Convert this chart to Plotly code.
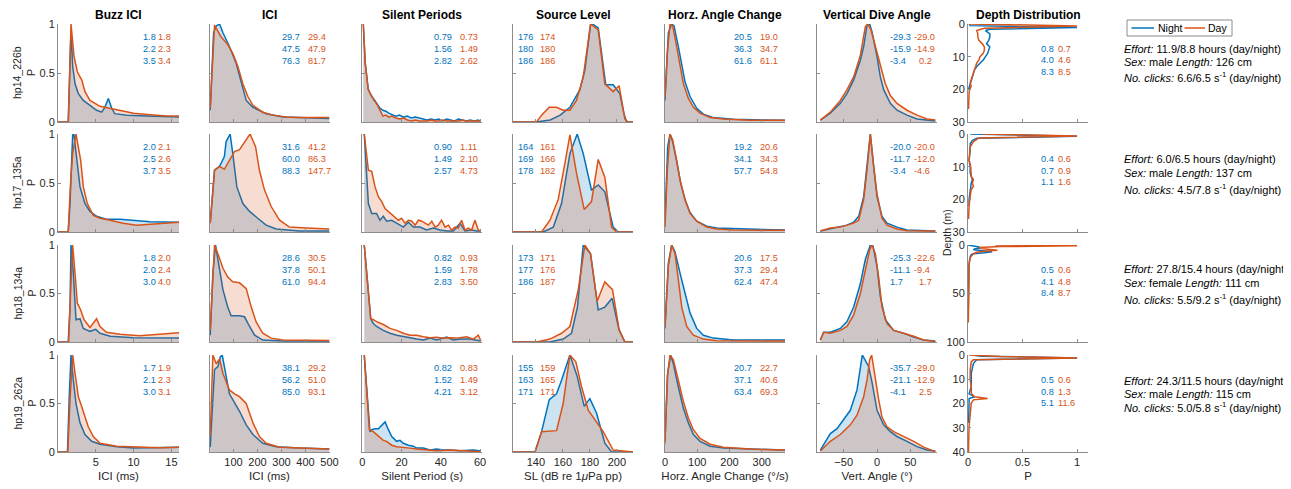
import plotly.graph_objects as go

# page is 1291x489; the html body has an 8px margin, so the figure is 1283x481 at (8, 8)
PAGE_OFF = 8
W, H = 1283, 481
NIGHT = '#0072BD'
DAY = '#D95319'
NIGHT_FILL = 'rgba(0,114,189,0.2)'
DAY_FILL = 'rgba(217,83,25,0.2)'
FONT = 'Liberation Sans, Arial, Helvetica, sans-serif'
TXT = '#262626'
AXC = '#8c8c8c'

column_titles = ["Buzz ICI", "ICI", "Silent Periods", "Source Level",
                 "Horz. Angle Change", "Vertical Dive Angle", "Depth Distribution"]
row_labels = ["hp14_226b", "hp17_135a", "hp18_134a", "hp19_262a"]
x_titles = ["ICI (ms)", "ICI (ms)", "Silent Period (s)", "SL (dB re 1<i>μ</i>Pa pp)",
            "Horz. Angle Change (°/s)", "Vert. Angle (°)", "P"]
legend_names = ["Night", "Day"]

# ---------------- Buzz ICI (ms) ----------------
buzz_night_x = [
    [0, 1.35, 1.55, 1.72, 1.94, 2.25, 2.69, 3.35, 4.23, 5.1, 5.77, 6.2, 6.66, 7.1, 7.5, 9.1, 11.7, 16],
    [0, 1.35, 1.59, 1.94, 2.1, 2.38, 2.91, 3.57, 4.23, 5.1, 6.4, 8.2, 10.0, 12.2, 16],
    [0, 1.35, 1.59, 1.72, 2.03, 2.38, 2.91, 3.35, 4.23, 4.98, 5.56, 6.9, 10.0, 16],
    [0, 1.25, 1.5, 1.72, 2.03, 2.38, 2.91, 3.57, 4.45, 5.56, 7.77, 10.0, 12.2, 16]]
buzz_night_y = [
    [0, 0, 0.5, 0.94, 0.57, 0.39, 0.29, 0.22, 0.17, 0.12, 0.10, 0.15, 0.24, 0.14, 0.085, 0.07, 0.06, 0.05],
    [0, 0, 0.29, 0.99, 1.0, 0.8, 0.46, 0.29, 0.21, 0.16, 0.13, 0.13, 0.12, 0.105, 0.1],
    [0, 0, 0.36, 1.0, 0.71, 0.23, 0.24, 0.14, 0.11, 0.13, 0.09, 0.06, 0.045, 0.04],
    [0, 0, 0.6, 1.0, 0.74, 0.5, 0.3, 0.18, 0.11, 0.08, 0.055, 0.04, 0.045, 0.05]]
buzz_day_x = [
    [0, 1.37, 1.72, 2.12, 2.56, 3.13, 3.57, 4.23, 5.56, 6.88, 8.2, 10.0, 12.2, 14.4, 16],
    [0, 1.35, 1.68, 1.94, 2.38, 2.69, 3.0, 3.35, 3.88, 4.67, 5.56, 6.9, 8.6, 10.4, 12.2, 14.4, 16],
    [0, 1.4, 1.68, 1.94, 2.25, 2.56, 3.0, 3.44, 4.23, 4.76, 5.1, 5.56, 6.4, 8.2, 10.8, 13.4, 16],
    [0, 1.3, 1.59, 1.94, 2.25, 2.69, 3.13, 3.57, 4.0, 4.67, 5.56, 7.77, 10.8, 13.4, 16]]
buzz_day_y = [
    [0, 0, 1.0, 0.67, 0.51, 0.43, 0.31, 0.22, 0.16, 0.14, 0.12, 0.09, 0.075, 0.06, 0.06],
    [0, 0, 0.53, 0.8, 1.0, 0.84, 0.73, 0.46, 0.29, 0.17, 0.14, 0.12, 0.09, 0.07, 0.08, 0.095, 0.1],
    [0, 0, 0.54, 1.0, 0.71, 0.4, 0.33, 0.23, 0.15, 0.21, 0.24, 0.16, 0.1, 0.08, 0.065, 0.08, 0.096],
    [0, 0, 0.54, 1.0, 0.81, 0.57, 0.47, 0.35, 0.26, 0.16, 0.09, 0.06, 0.05, 0.045, 0.05]]

# ---------------- ICI (ms) ----------------
ici_night_x = [
    [3, 17, 28, 42, 56, 83, 111, 139, 153, 181, 236, 306, 500],
    [3, 21, 42, 62, 69, 86, 97, 114, 139, 167, 201, 236, 278, 375, 500],
    [3, 14, 25, 35, 56, 76, 90, 125, 146, 167, 188, 222, 306, 500],
    [3, 21, 35, 45, 53, 62, 83, 97, 125, 153, 181, 222, 278, 375, 500]]
ici_night_y = [
    [0.12, 0.91, 0.98, 1.0, 0.91, 0.77, 0.6, 0.36, 0.22, 0.15, 0.085, 0.05, 0.035],
    [0.09, 0.63, 0.67, 0.77, 0.92, 1.0, 0.8, 0.46, 0.29, 0.21, 0.14, 0.07, 0.03, 0.01, 0.01],
    [0.07, 0.71, 1.0, 0.85, 0.54, 0.36, 0.27, 0.27, 0.26, 0.16, 0.07, 0.02, 0.01, 0.01],
    [0.05, 0.85, 0.88, 0.98, 1.0, 0.88, 0.6, 0.54, 0.42, 0.28, 0.18, 0.09, 0.055, 0.04, 0.03]]
ici_day_x = [
    [3, 21, 27, 48, 76, 97, 118, 139, 160, 181, 222, 264, 319, 375, 500],
    [3, 21, 42, 62, 83, 104, 125, 146, 169, 192, 208, 229, 257, 292, 333, 403, 500],
    [3, 21, 35, 56, 76, 97, 125, 153, 174, 194, 222, 257, 306, 500],
    [3, 14, 28, 42, 56, 83, 104, 125, 153, 181, 208, 236, 292, 375, 500]]
ici_day_y = [
    [0.14, 0.99, 0.96, 0.87, 0.79, 0.7, 0.57, 0.39, 0.26, 0.17, 0.1, 0.07, 0.05, 0.045, 0.045],
    [0.09, 0.63, 0.67, 0.64, 0.73, 0.82, 0.84, 0.92, 1.0, 0.87, 0.63, 0.43, 0.26, 0.12, 0.05, 0.04, 0.03],
    [0.12, 1.0, 0.91, 0.76, 0.67, 0.62, 0.61, 0.55, 0.36, 0.21, 0.09, 0.04, 0.02, 0.015],
    [0.16, 1.0, 0.91, 0.96, 0.81, 0.64, 0.6, 0.57, 0.5, 0.3, 0.16, 0.09, 0.05, 0.04, 0.03]]

# ---------------- Silent periods (s) ----------------
silent_night_x = [
    [0.5, 1.5, 3, 4.5, 6, 7.5, 9, 10.5, 12, 13.5, 15, 17, 19, 21, 23, 25, 27, 29, 31, 33, 35, 37, 39, 41,
     43, 45, 47, 49, 51, 53, 55, 57, 59, 60],
    [1, 3.1, 4.8, 7.3, 9, 10.7, 12.4, 15, 17.5, 20.9, 23.5, 26, 29.4, 32.8, 36.2, 39.6, 43, 46.4, 49.8,
     52.3, 55.7, 58.3, 60.5],
    [1.0, 4.3, 5.6, 7.3, 10.7, 14.1, 17.5, 20.9, 24.3, 27.7, 31.1, 34.5, 37.9, 43.0, 46.4, 49.8, 54.9, 58.3, 60.5],
    [1.0, 3.9, 4.8, 6.5, 8.2, 9.9, 11.6, 13.3, 15.0, 17.5, 19.2, 20.9, 23.5, 26.0, 27.7, 31.1, 34.5, 37.9,
     41.3, 44.7, 49.8, 56.6, 60.5]]
silent_night_y = [
    [1.0, 0.6, 0.34, 0.27, 0.23, 0.19, 0.14, 0.12, 0.11, 0.09, 0.08, 0.06, 0.07, 0.05, 0.06, 0.04, 0.05,
     0.04, 0.03, 0.02, 0.03, 0.02, 0.03, 0.01, 0.03, 0.02, 0.01, 0.03, 0.02, 0.01, 0.02, 0.01, 0.02, 0.01],
    [1.0, 0.29, 0.19, 0.19, 0.12, 0.16, 0.11, 0.12, 0.09, 0.05, 0.1, 0.05, 0.05, 0.02, 0.04, 0.02, 0.01,
     0.01, 0.09, 0.01, 0.02, 0.01, 0.01],
    [1.0, 0.24, 0.19, 0.16, 0.12, 0.09, 0.07, 0.055, 0.045, 0.03, 0.02, 0.04, 0.02, 0.05, 0.02, 0.03, 0.03,
     0.015, 0.01],
    [1.0, 0.21, 0.23, 0.24, 0.24, 0.28, 0.31, 0.23, 0.16, 0.11, 0.12, 0.09, 0.07, 0.06, 0.04, 0.04, 0.02,
     0.03, 0.02, 0.02, 0.014, 0.02, 0.01]]
silent_day_x = [
    [0.5, 1.5, 3, 4.5, 6, 7.5, 9, 10.5, 12, 13.5, 15, 17, 19, 21, 23, 25, 27, 29, 31, 33, 35, 37, 39, 41,
     43, 45, 47, 49, 51, 53, 55, 57, 59, 60],
    [1, 3.1, 4.8, 6.5, 8.2, 9.9, 11.6, 13.3, 15, 16.7, 18.4, 20, 21.8, 23.5, 25.2, 26.9, 28.6, 30.3, 31.9,
     33.7, 35.4, 37.1, 38.7, 40.4, 42.2, 43.9, 45.5, 47.2, 48.9, 50.6, 52.3, 54, 55.7, 57.4, 59.1, 60.5],
    [1.0, 4.3, 5.6, 7.3, 10.7, 14.1, 17.5, 20.9, 24.3, 27.7, 31.1, 34.5, 37.9, 41.3, 44.7, 48.1, 53.2,
     56.6, 59.1, 60.5],
    [1.0, 3.6, 5.6, 7.3, 9.0, 10.7, 12.4, 15.0, 17.5, 20.9, 24.3, 27.7, 32.8, 37.9, 44.7, 53.2, 60.5]]
silent_day_y = [
    [1.0, 0.6, 0.33, 0.27, 0.22, 0.18, 0.12, 0.06, 0.07, 0.05, 0.06, 0.04, 0.03, 0.04, 0.02, 0.01, 0.02,
     0.01, 0.01, 0.01, 0.02, 0.01, 0.01, 0.02, 0.01, 0.01, 0.01, 0.01, 0.02, 0.01, 0.01, 0.01, 0.01, 0.01],
    [1.0, 0.63, 0.62, 0.46, 0.36, 0.31, 0.24, 0.21, 0.17, 0.14, 0.12, 0.14, 0.09, 0.12, 0.11, 0.07, 0.12,
     0.11, 0.09, 0.07, 0.11, 0.05, 0.07, 0.12, 0.05, 0.07, 0.02, 0.05, 0.04, 0.12, 0.02, 0.04, 0.02, 0.12,
     0.02, 0.01],
    [1.0, 0.24, 0.23, 0.21, 0.18, 0.14, 0.12, 0.09, 0.07, 0.07, 0.055, 0.045, 0.05, 0.04, 0.045, 0.04,
     0.055, 0.03, 0.07, 0.01],
    [1.0, 0.23, 0.21, 0.18, 0.14, 0.12, 0.11, 0.07, 0.055, 0.05, 0.04, 0.03, 0.02, 0.014, 0.02, 0.01, 0.003]]

# ---------------- Source level (dB re 1 uPa pp) ----------------
sl_night_x = [
    [123, 140, 150.6, 158, 165.2, 172.6, 176.3, 180.5, 182, 186.2, 191.8, 197.3, 202.2, 205.2, 207.2, 212],
    [123, 145.4, 152.9, 159, 165.2, 170.6, 175.1, 181.2, 186.2, 191.1, 197.3, 201, 212],
    [123, 150.4, 160.2, 166.4, 170.8, 175.1, 180.5, 186.2, 191.1, 196.5, 201.7, 206, 212],
    [123, 139.3, 144.2, 149.9, 155.3, 159, 165.2, 170.6, 175.8, 180, 185, 191.1, 196.1, 212]]
sl_night_y = [
    [0, 0, 0.02, 0.07, 0.15, 0.33, 0.53, 0.99, 1.0, 0.96, 0.38, 0.38, 0.29, 0.09, 0, 0],
    [0, 0, 0.05, 0.29, 0.8, 1.0, 0.8, 0.43, 0.48, 0.41, 0.05, 0, 0],
    [0, 0, 0.03, 0.09, 0.36, 1.0, 0.91, 0.33, 0.36, 0.45, 0.12, 0, 0],
    [0, 0, 0.21, 0.54, 0.6, 0.74, 1.0, 0.78, 0.47, 0.55, 0.4, 0.09, 0, 0]]
sl_day_x = [
    [123, 140.5, 144.2, 149.9, 155.3, 160.2, 165.2, 170.1, 175.1, 180.5, 186.2, 191.1, 197.3, 201.7, 206, 208.4, 212],
    [123, 144.2, 150.4, 156.5, 161.5, 165.2, 170.1, 175.8, 181.2, 186.2, 191.1, 196.1, 199.8, 212],
    [123, 140.5, 150.4, 159, 165.2, 171.4, 176.3, 180.5, 185.4, 191.1, 196.8, 201.7, 206, 212],
    [123, 139.3, 144.2, 155.3, 160.2, 165.2, 169.6, 173.9, 178.8, 185, 189.9, 197.3, 212]]
sl_day_y = [
    [0, 0, 0.07, 0.15, 0.15, 0.12, 0.12, 0.22, 0.46, 1.0, 0.94, 0.39, 0.31, 0.37, 0.03, 0, 0],
    [0, 0, 0.12, 0.33, 0.7, 0.99, 0.6, 0.23, 0.31, 0.74, 0.56, 0.05, 0, 0],
    [0, 0, 0.03, 0.09, 0.16, 0.54, 1.0, 0.91, 0.42, 0.62, 0.54, 0.13, 0, 0],
    [0, 0, 0.21, 0.22, 0.5, 1.0, 0.93, 0.67, 0.43, 0.3, 0.21, 0.02, 0]]

# ---------------- Horizontal angle change (deg/s) ----------------
horz_night_x = [
    [0, 10.3, 20.7, 28, 41.4, 51.8, 62.1, 77.6, 98.3, 119, 150, 212, 372],
    [0, 8.3, 15.5, 23.8, 36.2, 48.7, 62.1, 77.6, 98.3, 129.4, 160.5, 372],
    [0, 10.3, 20.7, 31, 46.6, 62.1, 77.6, 98.3, 119, 150, 212, 372],
    [0, 8.3, 17.6, 25.9, 41.4, 57, 72.5, 88, 108.7, 139.8, 181, 372]]
horz_night_y = [
    [0.22, 0.91, 1.0, 0.98, 0.77, 0.58, 0.41, 0.26, 0.14, 0.08, 0.045, 0.027, 0.017],
    [0.12, 0.87, 1.0, 0.92, 0.72, 0.5, 0.33, 0.2, 0.11, 0.06, 0.04, 0.02],
    [0.14, 0.81, 1.0, 0.93, 0.71, 0.5, 0.3, 0.14, 0.07, 0.04, 0.02, 0.02],
    [0.12, 0.81, 1.0, 0.91, 0.67, 0.45, 0.3, 0.18, 0.11, 0.06, 0.04, 0.02]]
horz_day_x = [
    [0, 7.2, 15.5, 23.8, 36.2, 46.6, 57, 72.5, 88, 108.7, 139.8, 181, 264, 372],
    [0, 7.2, 15.5, 23.8, 36.2, 46.6, 62.1, 77.6, 98.3, 129.4, 160.5, 212, 372],
    [0, 10.3, 20.7, 31, 41.4, 51.8, 67.3, 88, 119, 160.5, 372],
    [0, 7.2, 15.5, 25.9, 41.4, 57, 72.5, 88, 108.7, 139.8, 181, 264, 372]]
horz_day_y = [
    [0.26, 0.7, 1.0, 0.98, 0.77, 0.57, 0.39, 0.24, 0.15, 0.09, 0.045, 0.03, 0.017, 0.017],
    [0.05, 0.63, 1.0, 0.94, 0.73, 0.53, 0.33, 0.19, 0.11, 0.05, 0.03, 0.02, 0.017],
    [0.16, 0.78, 1.0, 0.91, 0.64, 0.36, 0.16, 0.07, 0.03, 0.014, 0.01],
    [0.09, 0.78, 1.0, 0.95, 0.74, 0.52, 0.35, 0.23, 0.14, 0.08, 0.05, 0.03, 0.02]]

# ---------------- Vertical dive angle (deg) ----------------
vert_night_x = [
    [-85, -70, -55, -45, -35, -25, -20, -15, -11, -7.5, 0, 5, 10, 20, 30, 45, 60, 87.5],
    [-85, -70, -55, -45, -35, -27.5, -20, -15, -10, -5, 0, 7.5, 15, 30, 45, 87.5],
    [-85, -80, -70, -55, -45, -35, -25, -17.5, -10, -6, 0, 5, 12.5, 25, 40, 55, 70, 87.5],
    [-85, -70, -60, -50, -40, -30, -25, -22, -12.5, -7.5, 0, 10, 20, 30, 45, 60, 75, 87.5]]
vert_night_y = [
    [0.02, 0.09, 0.19, 0.29, 0.43, 0.63, 0.77, 0.99, 1.0, 0.92, 0.67, 0.46, 0.33, 0.19, 0.12, 0.07, 0.03, 0.01],
    [0.01, 0.03, 0.05, 0.07, 0.1, 0.16, 0.36, 0.67, 1.0, 0.67, 0.36, 0.16, 0.09, 0.05, 0.02, 0.01],
    [0.02, 0.1, 0.1, 0.14, 0.21, 0.36, 0.6, 0.85, 1.0, 0.99, 0.78, 0.47, 0.23, 0.12, 0.09, 0.05, 0.02, 0.01],
    [0.02, 0.19, 0.24, 0.33, 0.43, 0.64, 0.85, 1.0, 0.88, 0.72, 0.43, 0.28, 0.21, 0.16, 0.11, 0.055, 0.02, 0.01]]
vert_day_x = [
    [-85, -70, -55, -45, -35, -25, -17.5, -14, -9, -2.5, 5, 12.5, 20, 30, 45, 60, 75, 87.5],
    [-85, -70, -55, -45, -35, -27.5, -20, -15, -10, -5, 0, 7.5, 15, 30, 45, 87.5],
    [-85, -80, -70, -55, -45, -35, -25, -17.5, -11, -7.5, -2.5, 2.5, 7.5, 15, 25, 40, 55, 70, 87.5],
    [-85, -70, -55, -40, -30, -20, -15, -11, -8, -2.5, 2.5, 7.5, 15, 25, 40, 55, 70, 87.5]]
vert_day_y = [
    [0.02, 0.1, 0.22, 0.33, 0.46, 0.68, 0.97, 1.0, 0.94, 0.77, 0.57, 0.39, 0.27, 0.19, 0.12, 0.07, 0.03, 0.02],
    [0.01, 0.04, 0.05, 0.07, 0.09, 0.12, 0.33, 0.63, 1.0, 0.67, 0.39, 0.14, 0.07, 0.03, 0.014, 0.01],
    [0.02, 0.1, 0.09, 0.12, 0.16, 0.28, 0.5, 0.74, 0.95, 1.0, 0.91, 0.67, 0.36, 0.19, 0.12, 0.09, 0.06, 0.02, 0.005],
    [0.01, 0.11, 0.18, 0.28, 0.38, 0.57, 0.74, 0.95, 1.0, 0.74, 0.54, 0.36, 0.26, 0.21, 0.16, 0.11, 0.05, 0.003]]

# ---------------- Depth distribution (P vs depth m) ----------------
depth_night_d = [
    [0, 0.5, 1.1, 1.6, 2, 3, 4, 5, 6, 7, 8, 9, 10, 11, 12, 13, 14, 15, 16, 17, 18, 19, 20],
    [0, 0.3, 0.7, 1.3, 2, 3, 5, 8, 10, 12, 13, 14, 15, 17, 20, 22],
    [0, 1, 2, 3, 4, 5, 6, 7, 8, 9, 10, 12, 15, 20, 30, 50, 65],
    [0, 0.5, 1.2, 2, 3.4, 7.6, 13, 16, 17.2, 18, 20, 24, 28]]
depth_night_p = [
    [0.01, 0.02, 1.0, 0.2, 0.16, 0.2, 0.2, 0.19, 0.17, 0.2, 0.19, 0.18, 0.16, 0.14, 0.11, 0.08, 0.06, 0.05,
     0.04, 0.03, 0.025, 0.01, 0.005],
    [0.02, 0.6, 1.0, 0.08, 0.04, 0.02, 0.02, 0.01, 0.02, 0.02, 0.03, 0.04, 0.03, 0.02, 0.01, 0.01],
    [0.0, 0.06, 0.1, 0.11, 0.06, 0.05, 0.12, 0.22, 0.15, 0.05, 0.03, 0.02, 0.015, 0.01, 0.008, 0.005, 0.003],
    [0.04, 0.12, 1.0, 0.08, 0.05, 0.03, 0.03, 0.01, 0.06, 0.01, 0.01, 0.01, 0.005]]
depth_day_d = [
    [0, 0.6, 1.3, 2, 3, 4, 5, 6, 7, 8, 9, 10, 11, 12, 13, 14, 15, 16, 17, 18, 19, 20, 21, 23, 26],
    [0, 0.6, 1.2, 2.3, 4, 8, 10, 13, 14, 15, 16, 17, 19, 22, 26],
    [0, 0.8, 1.6, 2.5, 3.5, 4.5, 5.5, 6.5, 7.5, 9, 11, 13, 20, 40, 60, 80],
    [0, 0.6, 1.2, 2, 2.7, 6.2, 10.3, 13, 15.8, 17.2, 17.9, 18.5, 19.9, 24, 29.5, 37.8, 40]]
depth_day_p = [
    [0.01, 1.0, 0.15, 0.08, 0.09, 0.09, 0.1, 0.13, 0.15, 0.15, 0.14, 0.11, 0.1, 0.08, 0.07, 0.06, 0.05,
     0.04, 0.03, 0.02, 0.03, 0.015, 0.01, 0.01, 0.005],
    [0.12, 1.0, 0.1, 0.05, 0.02, 0.01, 0.025, 0.03, 0.05, 0.04, 0.05, 0.03, 0.02, 0.01, 0.005],
    [0.25, 1.0, 0.3, 0.1, 0.12, 0.2, 0.27, 0.15, 0.08, 0.05, 0.03, 0.02, 0.01, 0.008, 0.005, 0.003],
    [0.01, 0.3, 1.0, 0.05, 0.03, 0.02, 0.02, 0.03, 0.03, 0.06, 0.18, 0.05, 0.03, 0.02, 0.01, 0.005, 0.005]]

# ---------------- Quartile labels (night, day) ----------------
buzz_q_night = [["1.8", "2.2", "3.5"], ["2.0", "2.5", "3.7"], ["1.8", "2.0", "3.0"], ["1.7", "2.1", "3.0"]]
buzz_q_day = [["1.8", "2.3", "3.4"], ["2.1", "2.6", "3.5"], ["2.0", "2.4", "4.0"], ["1.9", "2.3", "3.1"]]
ici_q_night = [["29.7", "47.5", "76.3"], ["31.6", "60.0", "88.3"], ["28.6", "37.8", "61.0"], ["38.1", "56.2", "85.0"]]
ici_q_day = [["29.4", "47.9", "81.7"], ["41.2", "86.3", "147.7"], ["30.5", "50.1", "94.4"], ["29.2", "51.0", "93.1"]]
silent_q_night = [["0.79", "1.56", "2.82"], ["0.90", "1.49", "2.57"], ["0.82", "1.59", "2.83"], ["0.82", "1.52", "4.21"]]
silent_q_day = [["0.73", "1.49", "2.62"], ["1.11", "2.10", "4.73"], ["0.93", "1.78", "3.50"], ["0.83", "1.49", "3.12"]]
sl_q_night = [["176", "180", "186"], ["164", "169", "178"], ["173", "177", "186"], ["155", "163", "171"]]
sl_q_day = [["174", "180", "186"], ["161", "166", "182"], ["171", "176", "187"], ["159", "165", "171"]]
horz_q_night = [["20.5", "36.3", "61.6"], ["19.2", "34.1", "57.7"], ["20.6", "37.3", "62.4"], ["20.7", "37.1", "63.4"]]
horz_q_day = [["19.0", "34.7", "61.1"], ["20.6", "34.3", "54.8"], ["17.5", "29.4", "47.4"], ["22.7", "40.6", "69.3"]]
vert_q_night = [["-29.3", "-15.9", "-3.4"], ["-20.0", "-11.7", "-3.4"], ["-25.3", "-11.1", "1.7"], ["-35.7", "-21.1", "-4.1"]]
vert_q_day = [["-29.0", "-14.9", "0.2"], ["-20.0", "-12.0", "-4.6"], ["-22.6", "-9.4", "1.7"], ["-29.0", "-12.9", "2.5"]]
depth_q_night = [["0.8", "4.0", "8.3"], ["0.4", "0.7", "1.1"], ["0.5", "4.1", "8.4"], ["0.5", "0.8", "5.1"]]
depth_q_day = [["0.7", "4.6", "8.5"], ["0.6", "0.9", "1.6"], ["0.6", "4.8", "8.7"], ["0.6", "1.3", "11.6"]]

# ---------------- Animal info ----------------
effort = ["11.9/8.8", "6.0/6.5", "27.8/15.4", "24.3/11.5"]
sex = ["male", "male", "female", "male"]
length_cm = [126, 137, 111, 115]
clicks = ["6.6/6.5", "4.5/7.8", "5.5/9.2", "5.0/5.8"]

# ---------------- Layout geometry (page pixels) ----------------
col_px = [(58, 179), (209.5, 329.5), (362.3, 482), (513, 633), (665, 785), (817, 937), (968, 1088)]
row_px = [(24, 122), (134, 232), (245, 342), (355, 452)]
x_ranges = [[0, 16], [0, 500], [0, 61], [123, 212], [0, 372], [-90, 90], [0, 1.1]]
x_ticks = [[5, 10, 15], [100, 200, 300, 400, 500], [0, 20, 40, 60], [140, 160, 180, 200],
           [0, 100, 200, 300], [-50, 0, 50], [0, 0.5, 1]]
depth_max = [30, 30, 100, 40]
depth_ticks = [[0, 10, 20, 30], [0, 10, 20, 30], [0, 50, 100], [0, 10, 20, 30, 40]]
q_night_px = [141, 280, 431.7, 515.7, 731.7, 888.3, 1039.3]
q_day_px = [156, 305.7, 458, 538.3, 758, 911.7, 1056]
info_y = [[49, 62.5, 77], [159, 172.5, 189], [269, 283, 299], [381, 393.5, 407]]

series = [
    (buzz_night_x, buzz_night_y, buzz_day_x, buzz_day_y, buzz_q_night, buzz_q_day),
    (ici_night_x, ici_night_y, ici_day_x, ici_day_y, ici_q_night, ici_q_day),
    (silent_night_x, silent_night_y, silent_day_x, silent_day_y, silent_q_night, silent_q_day),
    (sl_night_x, sl_night_y, sl_day_x, sl_day_y, sl_q_night, sl_q_day),
    (horz_night_x, horz_night_y, horz_day_x, horz_day_y, horz_q_night, horz_q_day),
    (vert_night_x, vert_night_y, vert_day_x, vert_day_y, vert_q_night, vert_q_day),
]


def px_x(p):
    return (p - PAGE_OFF) / W


def px_y(p):
    return 1 - (p - PAGE_OFF) / H


fig = go.Figure()
layout = {}
annotations = []
shapes = []

for r in range(4):
    for c in range(7):
        idx = r * 7 + c + 1
        xa = 'x' if idx == 1 else f'x{idx}'
        ya = 'y' if idx == 1 else f'y{idx}'
        xkey = 'xaxis' if idx == 1 else f'xaxis{idx}'
        ykey = 'yaxis' if idx == 1 else f'yaxis{idx}'
        x0, x1 = col_px[c]
        y0, y1 = row_px[r]
        common = dict(showgrid=False, zeroline=False, showline=True, linecolor=AXC, linewidth=1,
                      ticks='inside', ticklen=3, tickcolor=AXC, tickwidth=1,
                      tickfont=dict(family=FONT, size=11, color=TXT), fixedrange=True)
        xaxis = dict(common, domain=[px_x(x0), px_x(x1)], anchor=ya, range=x_ranges[c],
                     tickvals=x_ticks[c], showticklabels=(r == 3))
        if r == 3:
            xaxis['title'] = dict(text=x_titles[c], font=dict(family=FONT, size=11.5, color=TXT), standoff=4)
        if c < 6:
            yaxis = dict(common, domain=[px_y(y1), px_y(y0)], anchor=xa, range=[0, 1],
                         tickvals=[0, 0.5, 1], ticktext=['0', '0.5', '1'], showticklabels=(c == 0))
            nx, ny, dx, dy, qn, qd = series[c]
            fig.add_trace(go.Scatter(x=nx[r], y=ny[r], mode='lines', name=legend_names[0],
                                     line=dict(color=NIGHT, width=1.5),
                                     fill='tozeroy', fillcolor=NIGHT_FILL, xaxis=xa, yaxis=ya,
                                     showlegend=False, hoverinfo='skip'))
            fig.add_trace(go.Scatter(x=dx[r], y=dy[r], mode='lines', name=legend_names[1],
                                     line=dict(color=DAY, width=1.5),
                                     fill='tozeroy', fillcolor=DAY_FILL, xaxis=xa, yaxis=ya,
                                     showlegend=False, hoverinfo='skip'))
            offs = [12.7, 25, 36.7]
        else:
            yaxis = dict(common, domain=[px_y(y1), px_y(y0)], anchor=xa, range=[depth_max[r], 0],
                         tickvals=depth_ticks[r], showticklabels=True)
            fig.add_trace(go.Scatter(x=depth_night_p[r], y=depth_night_d[r], mode='lines',
                                     name=legend_names[0], line=dict(color=NIGHT, width=1.5),
                                     xaxis=xa, yaxis=ya, showlegend=False, hoverinfo='skip'))
            fig.add_trace(go.Scatter(x=depth_day_p[r], y=depth_day_d[r], mode='lines',
                                     name=legend_names[1], line=dict(color=DAY, width=1.5),
                                     xaxis=xa, yaxis=ya, showlegend=False, hoverinfo='skip'))
            qn, qd = depth_q_night, depth_q_day
            offs = [25, 36.5, 48]
        layout[xkey] = xaxis
        layout[ykey] = yaxis

        for k in range(3):
            yy = px_y(y0 + offs[k])
            annotations.append(dict(x=px_x(q_night_px[c]), y=yy, xref='paper', yref='paper',
                                    text=qn[r][k], showarrow=False, xanchor='left', yanchor='middle',
                                    font=dict(family=FONT, size=9.2, color=NIGHT)))
            dxp = q_day_px[c]
            if c == 5 and not qd[r][k].startswith('-'):
                dxp += 5.5
            annotations.append(dict(x=px_x(dxp), y=yy, xref='paper', yref='paper',
                                    text=qd[r][k], showarrow=False, xanchor='left', yanchor='middle',
                                    font=dict(family=FONT, size=9.2, color=DAY)))

    # row labels (two-line y label of first column)
    yc = (row_px[r][0] + row_px[r][1]) / 2
    annotations.append(dict(x=px_x(17), y=px_y(yc), xref='paper', yref='paper', text=row_labels[r],
                            textangle=-90, showarrow=False, xanchor='center', yanchor='middle',
                            font=dict(family=FONT, size=10.5, color=TXT)))
    annotations.append(dict(x=px_x(31), y=px_y(yc), xref='paper', yref='paper', text="P",
                            textangle=-90, showarrow=False, xanchor='center', yanchor='middle',
                            font=dict(family=FONT, size=10.5, color=TXT)))

# Column titles
for c in range(7):
    x0, x1 = col_px[c]
    annotations.append(dict(x=px_x((x0 + x1) / 2), y=px_y(15), xref='paper', yref='paper',
                            text=f"<b>{column_titles[c]}</b>", showarrow=False,
                            xanchor='center', yanchor='middle',
                            font=dict(family=FONT, size=12, color='#000000')))

# Depth axis label
annotations.append(dict(x=px_x(947), y=px_y(233), xref='paper', yref='paper', text="Depth (m)",
                        textangle=-90, showarrow=False, xanchor='center', yanchor='middle',
                        font=dict(family=FONT, size=10.5, color=TXT)))

# Animal info text
for r in range(4):
    lines = [f"<i>Effort:</i> {effort[r]} hours (day/night)",
             f"<i>Sex:</i> {sex[r]} <i>Length:</i> {length_cm[r]} cm",
             f"<i>No. clicks:</i> {clicks[r]} s<sup>-1</sup> (day/night)"]
    for k in range(3):
        annotations.append(dict(x=px_x(1121.5), y=px_y(info_y[r][k]), xref='paper', yref='paper',
                                text=lines[k], showarrow=False, xanchor='left', yanchor='middle',
                                font=dict(family=FONT, size=11, color='#000000')))

# Legend box (Night / Day)
shapes.append(dict(type='rect', xref='paper', yref='paper', x0=px_x(1127), x1=px_x(1232),
                   y0=px_y(36), y1=px_y(20), line=dict(color='#8c8c8c', width=1), fillcolor='white'))
shapes.append(dict(type='line', xref='paper', yref='paper', x0=px_x(1131.5), x1=px_x(1154),
                   y0=px_y(28), y1=px_y(28), line=dict(color=NIGHT, width=1.5)))
shapes.append(dict(type='line', xref='paper', yref='paper', x0=px_x(1184.5), x1=px_x(1205),
                   y0=px_y(28), y1=px_y(28), line=dict(color=DAY, width=1.5)))
annotations.append(dict(x=px_x(1155.5), y=px_y(28), xref='paper', yref='paper', text=legend_names[0],
                        showarrow=False, xanchor='left', yanchor='middle',
                        font=dict(family=FONT, size=10.5, color='#000000')))
annotations.append(dict(x=px_x(1206), y=px_y(28), xref='paper', yref='paper', text=legend_names[1],
                        showarrow=False, xanchor='left', yanchor='middle',
                        font=dict(family=FONT, size=10.5, color='#000000')))

fig.update_layout(
    width=W, height=H,
    margin=dict(l=0, r=0, t=0, b=0),
    paper_bgcolor='white', plot_bgcolor='white',
    template='none',
    font=dict(family=FONT, size=11, color=TXT),
    showlegend=False,
    annotations=annotations,
    shapes=shapes,
    **layout,
)

fig.write_html("out.html")
